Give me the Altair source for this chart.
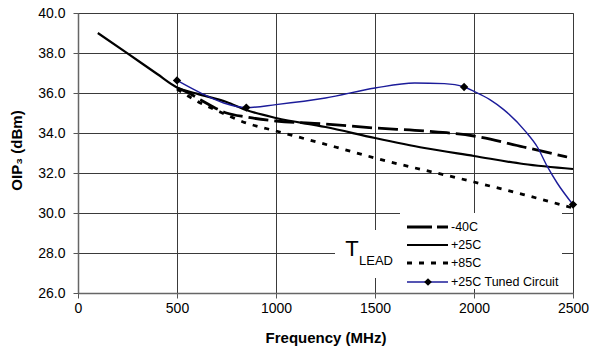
import altair as alt
import pandas as pd

# ---- data ----
freq_m40 = [500, 550, 620, 750, 850, 1000, 1250, 1500, 1750, 2000, 2250, 2470]
oip_m40 = [36.25, 36.05, 35.65, 35.0, 34.8, 34.6, 34.45, 34.25, 34.1, 33.85, 33.3, 32.8]

freq_p25 = [100, 250, 400, 500, 600, 750, 850, 1000, 1250, 1500, 1750, 2000, 2250, 2500]
oip_p25 = [39.0, 37.98, 36.95, 36.28, 35.97, 35.55, 35.15, 34.75, 34.3, 33.75, 33.25, 32.85, 32.45, 32.2]

freq_p85 = [500, 600, 700, 850, 1000, 1300, 1500, 2000, 2250, 2500]
oip_p85 = [36.2, 35.6, 35.13, 34.5, 34.1, 33.3, 32.75, 31.55, 30.92, 30.25]

freq_tuned = [500, 626, 736, 850, 1000, 1250, 1500, 1700, 1850, 1950, 2000, 2080, 2150, 2260, 2320, 2370, 2420, 2500]
oip_tuned = [36.63, 35.97, 35.5, 35.27, 35.42, 35.75, 36.25, 36.5, 36.47, 36.3, 36.08, 35.67, 35.17, 34.08, 33.3, 32.33, 31.5, 30.42]

marker_freq = [500, 850, 1950, 2500]
marker_oip = [36.63, 35.27, 36.3, 30.42]

x_ticks = [0, 500, 1000, 1500, 2000, 2500]
y_ticks = [26, 28, 30, 32, 34, 36, 38, 40]
legend_labels = ["-40C", "+25C", "+85C", "+25C Tuned Circuit"]

FONT = "Liberation Sans"
BLUE = "#1c1c9a"
OX, OY = 78, 13  # plot-area origin in page pixels

xs = alt.Scale(domain=[0, 2500], nice=False, zero=False)
ys = alt.Scale(domain=[26, 40], nice=False, zero=False)

x_axis = alt.Axis(values=x_ticks, format="d", title="Frequency (MHz)", grid=True, gridColor="#3a3a3a",
                  gridWidth=1, tickSize=5, tickColor="#555", domainColor="#666", domainWidth=1.5,
                  labelPadding=3, labelFontSize=14, labelColor="black", labelFont=FONT,
                  labelOverlap=False, labelFlush=False,
                  titleFont=FONT, titleFontSize=15, titleFontWeight="bold", titleColor="black",
                  titleY=49, titleBaseline="alphabetic")
y_axis = alt.Axis(values=y_ticks, format=".1f", title="OIP₃ (dBm)", grid=True, gridColor="#3a3a3a",
                  gridWidth=1, tickSize=5, tickColor="#555", domainColor="#666", domainWidth=1.5,
                  labelPadding=8, labelFontSize=14, labelColor="black", labelFont=FONT,
                  labelOverlap=False, labelFlush=False,
                  titleFont=FONT, titleFontSize=15, titleFontWeight="bold", titleColor="black",
                  titleX=-62, titleY=137, titleAngle=270, titleBaseline="middle", titleAlign="center")

X_ENC = dict(scale=xs, axis=x_axis)
Y_ENC = dict(scale=ys, axis=y_axis)


def series(freqs, vals, **mk):
    df = pd.DataFrame({"f": freqs, "v": vals})
    return alt.Chart(df).mark_line(interpolate="monotone", **mk).encode(
        x=alt.X("f:Q", **X_ENC),
        y=alt.Y("v:Q", **Y_ENC),
    )


def white_box(x1, x2, y1, y2):
    return alt.Chart().mark_rect(color="white").encode(
        x=alt.value(x1 - OX), x2=alt.value(x2 - OX), y=alt.value(y1 - OY), y2=alt.value(y2 - OY))


def legend_line(y, **mk):
    return alt.Chart().mark_rule(**mk).encode(
        x=alt.value(407 - OX), x2=alt.value(448 - OX), y=alt.value(y - OY))


def legend_text(y, label):
    return alt.Chart().mark_text(align="left", baseline="middle", fontSize=12.5, font=FONT,
                                 color="black").encode(
        x=alt.value(451 - OX), y=alt.value(y - OY), text=alt.value(label))


boxes = white_box(335, 400, 230, 278) + white_box(400, 562, 213, 289)

l_m40 = series(freq_m40, oip_m40, color="black", strokeWidth=2.8, strokeDash=[20, 6])
l_p25 = series(freq_p25, oip_p25, color="black", strokeWidth=2.2)
l_p85 = series(freq_p85, oip_p85, color="black", strokeWidth=2.8, strokeDash=[5, 7])
l_tuned = series(freq_tuned, oip_tuned, color=BLUE, strokeWidth=1.4)

markers = alt.Chart(pd.DataFrame({"f": marker_freq, "v": marker_oip})).mark_point(
    shape="diamond", filled=True, size=70, color="black", opacity=1).encode(
    x=alt.X("f:Q", **X_ENC), y=alt.Y("v:Q", **Y_ENC))

leg = (
    legend_line(227, color="black", strokeWidth=3, strokeDash=[25, 5])
    + legend_text(227, legend_labels[0])
    + legend_line(245, color="black", strokeWidth=2.2)
    + legend_text(245, legend_labels[1])
    + legend_line(263, color="black", strokeWidth=3, strokeDash=[5, 7])
    + legend_text(263, legend_labels[2])
    + legend_line(282, color=BLUE, strokeWidth=1.4)
    + alt.Chart().mark_point(shape="diamond", filled=True, size=60, color="black", opacity=1).encode(
        x=alt.value(428 - OX), y=alt.value(282 - OY))
    + legend_text(282, legend_labels[3])
)

tlead = (
    alt.Chart().mark_text(align="center", baseline="alphabetic", fontSize=22, font=FONT,
                          color="black").encode(x=alt.value(352 - OX), y=alt.value(256 - OY),
                                                text=alt.value("T"))
    + alt.Chart().mark_text(align="left", baseline="alphabetic", fontSize=13, font=FONT,
                            color="black").encode(x=alt.value(359 - OX), y=alt.value(265 - OY),
                                                  text=alt.value("LEAD"))
)

chart = alt.layer(boxes, l_m40, l_p25, l_p85, l_tuned, markers, leg, tlead).properties(
    width=495, height=280,
    padding={"left": OX, "top": OY, "right": 18, "bottom": 53},
    autosize=alt.AutoSizeParams(type="none"),
    background="white",
).configure_view(stroke="#777", strokeWidth=1)

chart.save("out.html", embed_options={"renderer": "svg", "actions": False})
